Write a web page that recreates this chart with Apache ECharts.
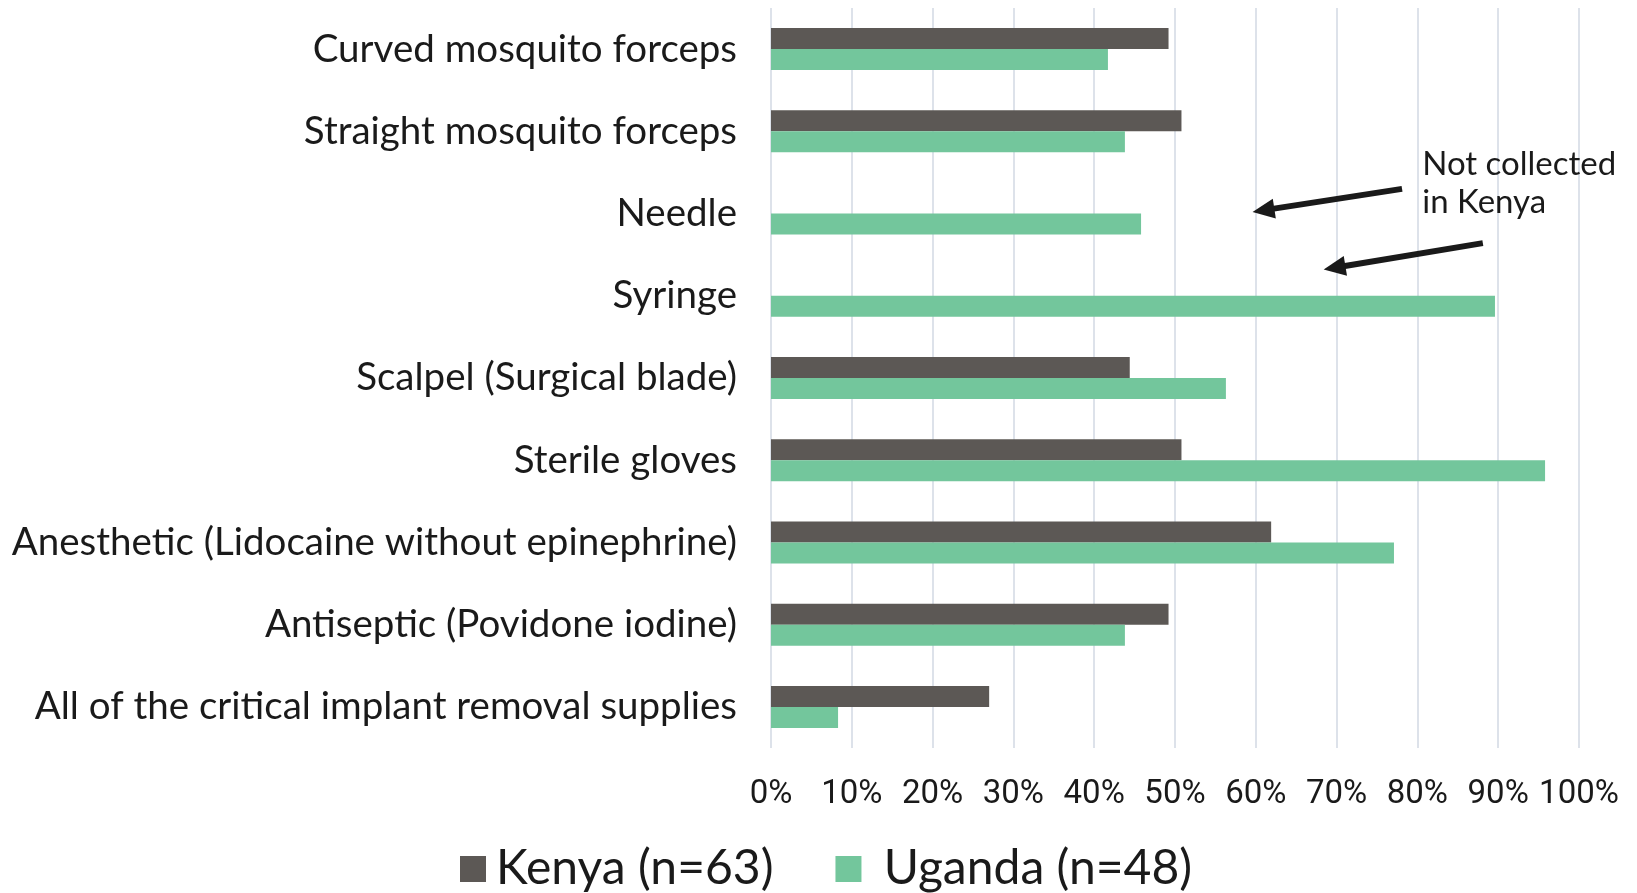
<!DOCTYPE html>
<html>
<head>
    <meta charset="utf-8">
    <title>Implant removal supplies</title>
    <script src="https://cdn.jsdelivr.net/npm/echarts@6/dist/echarts.min.js"></script>
</head>
<body style="margin:0">
    <div id="main" style="width:1637px; height:893px;"></div>
    <script type="text/javascript">
        // categories, top to bottom
        var categories = [
            'Curved mosquito forceps',
            'Straight mosquito forceps',
            'Needle',
            'Syringe',
            'Scalpel (Surgical blade)',
            'Sterile gloves',
            'Anesthetic (Lidocaine without epinephrine)',
            'Antiseptic (Povidone iodine)',
            'All of the critical implant removal supplies'
        ];
        // share of facilities (%)
        var kenya  = [49.2, 50.8, null, null, 44.4, 50.8, 61.9, 49.2, 27.0];
        var uganda = [41.7, 43.8, 45.8, 89.6, 56.3, 95.8, 77.1, 43.8, 8.3];
        var seriesNames = ['Kenya (n=63)', 'Uganda (n=48)'];
        var noteText = 'Not collected\nin Kenya';
        // arrows: [x from, category index from, x to, category index to]
        var arrows = [
            [78.1, 1.70, 59.6, 1.98],
            [88.1, 2.36, 68.4, 2.68]
        ];

        var myChart = echarts.init(document.getElementById('main'));

        var option = {
            backgroundColor: '#fff',
            color: ['#5c5855', '#73c69c'],
            animation: false,
            grid: {
                left: 771,
                right: 58,
                top: 8,
                height: 740
            },
            legend: {
                left: 455,
                top: 840,
                itemWidth: 26,
                itemHeight: 26,
                itemGap: 62,
                icon: 'rect',
                data: seriesNames,
                formatter: function (name) {
                    return name === seriesNames[1] ? ' ' + name : name;
                },
                textStyle: {
                    fontFamily: 'Lato',
                    fontSize: 48,
                    color: '#1a1a1a',
                    padding: [0, 0, 0, 5]
                }
            },
            xAxis: {
                type: 'value',
                min: 0,
                max: 100,
                interval: 10,
                axisLine: {show: false},
                axisTick: {show: false},
                splitLine: {
                    show: true,
                    lineStyle: {color: '#dde2ea', width: 2}
                },
                axisLabel: {
                    formatter: '{value}%',
                    margin: 30,
                    fontFamily: 'Roboto',
                    fontSize: 33,
                    color: '#1a1a1a'
                }
            },
            yAxis: {
                type: 'category',
                inverse: true,
                data: categories,
                axisLine: {show: false},
                axisTick: {show: false},
                axisLabel: {
                    margin: 34,
                    fontFamily: 'Lato',
                    fontSize: 38.5,
                    color: '#1a1a1a'
                }
            },
            series: [
                {
                    name: seriesNames[0],
                    type: 'bar',
                    barWidth: 21,
                    barGap: '0%',
                    data: kenya
                },
                {
                    name: seriesNames[1],
                    type: 'bar',
                    barWidth: 21,
                    barGap: '0%',
                    data: uganda
                }
            ]
        };

        myChart.setOption(option);

        // x value + fractional category index -> pixel
        function toPixel(xv, yv) {
            var i0 = Math.floor(yv);
            var i1 = Math.min(i0 + 1, categories.length - 1);
            var f = yv - i0;
            var a = myChart.convertToPixel({gridIndex: 0}, [xv, categories[i0]]);
            var b = myChart.convertToPixel({gridIndex: 0}, [xv, categories[i1]]);
            return [a[0], a[1] + (b[1] - a[1]) * f];
        }

        // annotation arrows and note
        var graphics = [];
        arrows.forEach(function (a) {
            var p0 = toPixel(a[0], a[1]);
            var p1 = toPixel(a[2], a[3]);
            var ang = Math.atan2(p1[1] - p0[1], p1[0] - p0[0]);
            var len = 22, half = 10;
            var bx = p1[0] - Math.cos(ang) * len;
            var by = p1[1] - Math.sin(ang) * len;
            graphics.push({
                type: 'line',
                shape: {x1: p0[0], y1: p0[1], x2: bx + Math.cos(ang) * 2, y2: by + Math.sin(ang) * 2},
                style: {stroke: '#1a1a1a', lineWidth: 6}
            });
            graphics.push({
                type: 'polygon',
                shape: {points: [
                    [p1[0], p1[1]],
                    [bx - Math.sin(ang) * half, by + Math.cos(ang) * half],
                    [bx + Math.sin(ang) * half, by - Math.cos(ang) * half]
                ]},
                style: {fill: '#1a1a1a'}
            });
        });
        var tp = toPixel(80.6, 1.63);
        graphics.push({
            type: 'text',
            x: tp[0],
            y: tp[1],
            style: {
                text: noteText,
                fontFamily: 'Lato',
                fontSize: 33,
                lineHeight: 38,
                fill: '#1a1a1a',
                align: 'left',
                verticalAlign: 'middle'
            }
        });
        myChart.setOption({graphic: graphics});
    </script>
</body>
</html>
